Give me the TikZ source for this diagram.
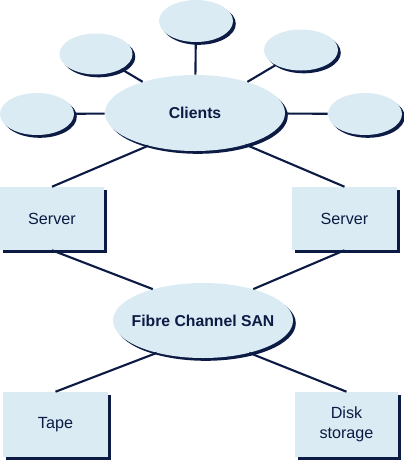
\documentclass[tikz,border=0pt]{standalone}
\usepackage{fontspec}
\setsansfont{Liberation Sans}
\usetikzlibrary{shapes.geometric,shadows}
\definecolor{cl}{RGB}{218,235,243}
\definecolor{nv}{RGB}{12,27,68}

\begin{document}
\begin{tikzpicture}[x=0.25mm,y=-0.25mm,
    shd/.style={general shadow={shadow xshift=0.7mm,shadow yshift=-0.7mm,fill=nv}},
    ell/.style={ellipse,fill=cl,shd,inner sep=0pt,text=nv,font=\sffamily\bfseries\fontsize{11.2}{13}\selectfont},
    box/.style={rectangle,fill=cl,shd,inner sep=0pt,text=nv,align=center,font=\sffamily\fontsize{11.5}{14}\selectfont},
    ln/.style={draw=nv,line width=1.5pt},
]
\useasboundingbox (0,0) rectangle (404,461);
\node[ell,minimum width=18.5mm,minimum height=10.5mm] (top) at (196,21) {};
\node[ell,minimum width=18.25mm,minimum height=10.25mm] (ul) at (96,54) {};
\node[ell,minimum width=18.5mm,minimum height=10.25mm] (ur) at (301,50) {};
\node[ell,minimum width=18.5mm,minimum height=10.5mm] (le) at (37,114) {};
\node[ell,minimum width=18.5mm,minimum height=10.5mm] (ri) at (365,114) {};
\node[ell,minimum width=45mm,minimum height=19mm] (cli) at (195,113) {Clients};
\node[ell,minimum width=45mm,minimum height=18.75mm,inner xsep=-5mm] (san) at (203,320.5) {Fibre Channel SAN};

\node[box,minimum width=26mm,minimum height=15.75mm] (srvL) at (52,218.5) {Server};
\node[box,minimum width=26.25mm,minimum height=15.75mm] (srvR) at (344.5,218.5) {Server};
\node[box,minimum width=26.25mm,minimum height=16.25mm] (tape) at (55.5,424.5) {Tape};
\node[box,minimum width=25.75mm,minimum height=16.25mm] (disk) at (346.5,424.5) {Disk\\storage};

\draw[ln] (top) -- (cli);
\draw[ln] (ul) -- (cli);
\draw[ln] (ur) -- (cli);
\draw[ln] (le) -- (cli);
\draw[ln] (ri) -- (cli);
\draw[ln] (cli.215) -- (srvL.north);
\draw[ln] (cli.328) -- (srvR.north);
\draw[ln] (srvL.south) -- (san.148);
\draw[ln] (srvR.south) -- (san.32);
\draw[ln] (san.215) -- (tape.north);
\draw[ln] (san.325) -- (disk.north);
\end{tikzpicture}
\end{document}
